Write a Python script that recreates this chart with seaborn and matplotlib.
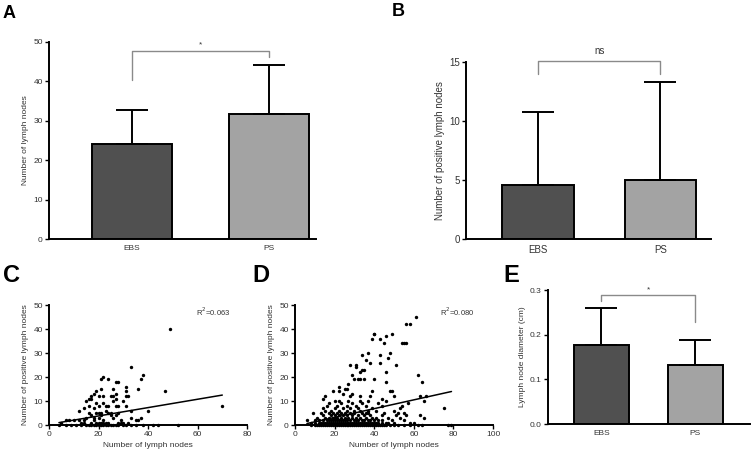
import numpy as np
import pandas as pd
import matplotlib
matplotlib.use("Agg")
import matplotlib.pyplot as plt
import seaborn as sns


# =========================================================
# DATA
# =========================================================

groups = ["EBS", "PS"]
bar_colors = ["#505050", "#a3a3a3"]

# A - number of lymph nodes (mean, sd)
nodes_mean = [24.0, 31.6]
nodes_sd = [8.8, 12.5]

# B - number of positive lymph nodes
pos_mean = [4.55, 5.0]
pos_sd = [6.25, 8.3]

# E - lymph node diameter (cm)
diam_mean = [0.178, 0.133]
diam_sd = [0.082, 0.056]

# C - EBS: lymph nodes vs positive lymph nodes
c_x = [49, 70, 33, 38, 37, 36, 47, 40,
       21, 22, 24, 26, 27, 28, 31, 31, 31, 32, 33,
       19, 18, 17, 16, 17, 15, 20, 22, 21, 25, 26, 27, 27,
       12, 14, 16, 18, 19, 20, 22, 23, 24, 26, 27, 28, 30, 31,
       13, 14, 15, 16, 17, 18, 19, 20, 20, 21, 21, 22, 23, 24, 25, 25,
       26, 27, 28, 29, 30, 33, 35, 36, 37,
       4, 7, 9, 11, 13, 15, 16, 17, 18, 19, 20, 21, 22, 23, 24, 25, 26,
       27, 28, 30, 31, 33, 35, 38, 42, 44, 52,
       5, 7, 8, 10, 12, 14, 17, 18, 19, 20, 21, 22, 23, 24, 28, 29, 32]
c_y = [40, 8, 24, 21, 19, 15, 14, 6,
       19, 20, 19, 15, 18, 18, 16, 14, 12, 12, 6,
       14, 13, 12, 11, 11, 10, 12, 12, 15, 12, 12, 13, 11,
       6, 7, 8, 7, 9, 8, 9, 8, 8, 10, 8, 8, 10, 8,
       1, 2, 3, 5, 4, 3, 5, 5, 3, 4, 5, 2, 6, 5, 4, 5,
       3, 4, 5, 2, 1, 3, 2, 2, 3,
       0, 0, 0, 0, 0, 0, 0, 0, 0, 0, 0, 0, 0, 0, 0, 0, 0,
       0, 0, 0, 0, 0, 0, 0, 0, 0, 0,
       1, 2, 2, 2, 2, 1, 1, 2, 1, 1, 1, 1, 1, 1, 1, 1, 1]

# D - PS: lymph nodes vs positive lymph nodes
d_x = [61, 56, 58, 54, 55, 56, 46, 40, 43, 49, 39, 48, 37, 43, 34, 36, 47,
       43, 38, 28, 31, 51, 31, 34, 35, 33, 46, 62, 29, 30, 32, 33, 35, 40,
       46, 64, 27, 22, 25, 26, 39, 49, 29, 22, 19, 15, 24, 28, 33, 38, 50,
       44, 63, 66, 65, 14, 48, 45, 40,
       8, 10, 11, 12, 13, 14, 15, 16, 17, 18, 19, 20, 21, 22, 23, 24, 25,
       26, 27, 28, 29, 30, 31, 32, 33, 34, 35, 36, 37, 38, 39, 40, 41, 42,
       43, 44, 45, 46, 48, 50, 52, 55, 58, 62, 64, 77, 79,
       8, 10, 12, 13, 14, 15, 16, 17, 18, 19, 20, 21, 22, 23, 24, 25, 26,
       27, 28, 29, 30, 31, 32, 33, 34, 35, 36, 37, 38, 39, 40, 41, 42, 44,
       46, 47, 50, 58, 60,
       6, 10, 12, 14, 16, 17, 18, 19, 20, 21, 22, 23, 24, 25, 26, 28, 30,
       31, 32, 34, 35, 37, 38, 40, 42, 44, 49, 55,
       11, 15, 17, 19, 20, 21, 23, 25, 27, 29, 31, 33, 36, 39, 41, 47, 53, 65,
       14, 18, 20, 22, 24, 26, 29, 32, 35, 38, 44, 51, 56, 63,
       9, 13, 17, 19, 21, 23, 25, 28, 30, 34, 36, 37, 45, 52, 55,
       15, 18, 22, 26, 30, 33, 37, 41, 50,
       14, 20, 24, 28, 32, 39, 53, 75,
       16, 21, 26, 31, 36, 44, 54,
       17, 23, 29, 34, 42, 57,
       20, 22, 27, 33, 37, 46]
d_y = [45, 42, 42, 34, 34, 34, 37, 38, 36, 38, 36, 30, 30, 29, 29, 27, 28,
       26, 26, 25, 25, 25, 24, 23, 23, 22, 22, 21, 21, 19, 19, 19, 19, 19,
       18, 18, 17, 16, 15, 15, 14, 14, 13, 14, 14, 12, 13, 12, 12, 12, 12,
       11, 12, 12, 10, 11, 14, 34, 38,
       0, 0, 0, 0, 0, 0, 0, 0, 0, 0, 0, 0, 0, 0, 0, 0, 0,
       0, 0, 0, 0, 0, 0, 0, 0, 0, 0, 0, 0, 0, 0, 0, 0, 0,
       0, 0, 0, 0, 0, 0, 0, 0, 0, 0, 0, 0, 0,
       1, 1, 1, 1, 1, 1, 1, 1, 1, 1, 1, 1, 1, 1, 1, 1, 1,
       1, 1, 1, 1, 1, 1, 1, 1, 1, 1, 1, 1, 1, 1, 1, 1, 1,
       1, 1, 1, 1, 1,
       2, 2, 2, 2, 2, 2, 2, 2, 2, 2, 2, 2, 2, 2, 2, 2, 2,
       2, 2, 2, 2, 2, 2, 2, 2, 2, 2, 2,
       3, 3, 3, 3, 3, 3, 3, 3, 3, 3, 3, 3, 3, 3, 3, 3, 3, 3,
       4, 4, 4, 4, 4, 4, 4, 4, 4, 4, 4, 4, 4, 4,
       5, 5, 5, 5, 5, 5, 5, 5, 5, 5, 5, 5, 5, 5, 5,
       6, 6, 6, 6, 6, 6, 6, 6, 6,
       7, 7, 7, 7, 7, 7, 7, 7,
       8, 8, 8, 8, 8, 8, 8,
       9, 9, 9, 9, 9, 9,
       10, 10, 10, 10, 10, 10]

# fitted lines as shown in the figure (slope, intercept)
c_fit = [0.174, 0.29]
d_fit = [0.183, -0.5]

c_r2 = "R$^2$=0.063"
d_r2 = "R$^2$=0.080"


# =========================================================
# STYLE
# =========================================================

sns.set_style("ticks")
plt.rcParams["font.family"] = ["Liberation Sans", "DejaVu Sans"]

TEXT = "#333333"
BRACKET = "#8a8a8a"
LW = 1.4

fig = plt.figure(figsize=(7.53, 4.53), dpi=100)

ax_a = fig.add_axes([0.0651, 0.4724, 0.355, 0.4349])
ax_b = fig.add_axes([0.6189, 0.4724, 0.325, 0.3907])
ax_c = fig.add_axes([0.0651, 0.0618, 0.2630, 0.2649])
ax_d = fig.add_axes([0.3918, 0.0618, 0.2630, 0.2649])
ax_e = fig.add_axes([0.7278, 0.0640, 0.2680, 0.2958])


def style_axes(ax):
    sns.despine(ax=ax)
    for side in ["left", "bottom"]:
        ax.spines[side].set_linewidth(LW)
        ax.spines[side].set_color("black")
    ax.tick_params(axis="both", labelsize=6, colors="black",
                   labelcolor=TEXT, width=1.0, length=3, pad=1.5)


def bar_panel(ax, means, sds, ylim, yticks, ylabel, xlim):
    df = pd.DataFrame({"group": groups, "value": means})
    sns.barplot(data=df, x="group", y="value", hue="group",
                palette=bar_colors, width=0.585, edgecolor="black",
                linewidth=LW, legend=False, ax=ax)
    ax.errorbar([0, 1], means, yerr=[[0, 0], sds], fmt="none",
                ecolor="black", elinewidth=LW, capsize=11.5,
                capthick=LW, zorder=3)
    ax.set_xlim(*xlim)
    ax.set_ylim(*ylim)
    ax.set_yticks(yticks)
    ax.set_xlabel("")
    ax.set_ylabel(ylabel, fontsize=6, color=TEXT, labelpad=3)
    style_axes(ax)
    ax.tick_params(axis="x", length=0, pad=4)


def bracket(ax, y_left, y_top, y_right, label, label_y, size):
    ax.plot([0, 0, 1, 1], [y_left, y_top, y_top, y_right],
            color=BRACKET, lw=1.0, clip_on=False)
    ax.text(0.5, label_y, label, ha="center", va="bottom",
            fontsize=size, color=TEXT, clip_on=False)


def scatter_panel(ax, x, y, fit, xlim, xticks, r2, r2_x):
    sns.scatterplot(x=x, y=y, s=6, color="black", linewidth=0,
                    clip_on=False, zorder=3, ax=ax)
    line_x = np.array([min(x), max(x)])
    sns.lineplot(x=line_x, y=fit[0] * line_x + fit[1], color="black",
                 lw=1.1, ax=ax)
    ax.set_xlim(*xlim)
    ax.set_ylim(0, 50)
    ax.set_xticks(xticks)
    ax.set_yticks(range(0, 51, 10))
    ax.set_xlabel("Number of lymph nodes", fontsize=6, color=TEXT,
                  labelpad=3)
    ax.set_ylabel("Number of positive lymph nodes", fontsize=6,
                  color=TEXT, labelpad=3)
    ax.text(r2_x, 47, r2, fontsize=5.5, color=TEXT, va="center")
    style_axes(ax)


# =========================================================
# PANELS
# =========================================================

bar_panel(ax_a, nodes_mean, nodes_sd, (0, 50), range(0, 51, 10),
          "Number of lymph nodes", (-0.606, 1.343))
bracket(ax_a, 40.4, 47.7, 46.2, "*", 48.3, 6)

bar_panel(ax_b, pos_mean, pos_sd, (0, 15), [0, 5, 10, 15],
          "Number of positive lymph nodes", (-0.585, 1.41))
ax_b.tick_params(axis="y", labelsize=7)
ax_b.tick_params(axis="x", labelsize=7)
ax_b.yaxis.label.set_size(7)
bracket(ax_b, 14.0, 15.1, 14.0, "ns", 15.5, 7)

scatter_panel(ax_c, c_x, c_y, c_fit, (0, 80), range(0, 81, 20), c_r2, 59.5)
scatter_panel(ax_d, d_x, d_y, d_fit, (0, 100), range(0, 101, 20), d_r2, 73)

bar_panel(ax_e, diam_mean, diam_sd, (0, 0.3), [0.0, 0.1, 0.2, 0.3],
          "Lymph node diameter (cm)", (-0.569, 1.58))
ax_e.set_yticklabels(["0.0", "0.1", "0.2", "0.3"])
bracket(ax_e, 0.276, 0.288, 0.228, "*", 0.292, 6)


# =========================================================
# PANEL LETTERS
# =========================================================

letters = [("A", 3, 5, 13), ("B", 392, 3, 13),
           ("C", 3, 264, 17), ("D", 252, 264, 17), ("E", 503, 264, 17)]
for letter, px, py, size in letters:
    fig.text(px / 753, 1 - py / 453, letter, fontsize=size,
             fontweight="bold", ha="left", va="top", color="black")

fig.savefig("out.png", dpi=100)
plt.close(fig)
print("saved: out.png")
